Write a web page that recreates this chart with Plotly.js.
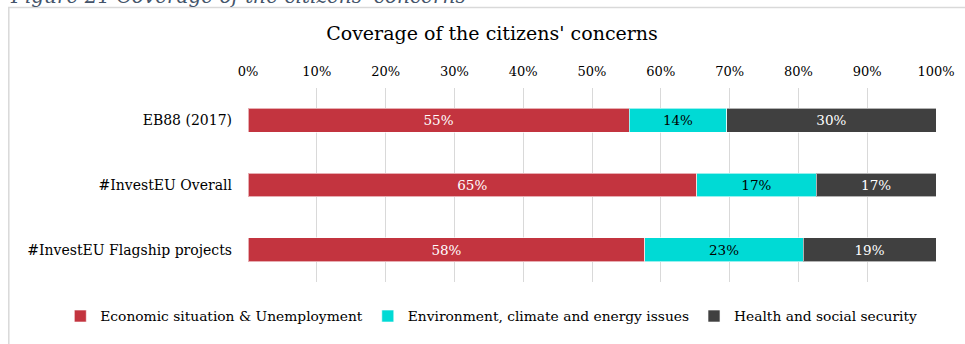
<!DOCTYPE html>
<html>
<head>
<meta charset="utf-8">
<script src="https://cdn.plot.ly/plotly-3.0.1.min.js"></script>
<style>
html,body{margin:0;padding:0;background:#fff;}
#chart{width:965px;height:344px;}
</style>
</head>
<body>
<div id="chart"></div>
<script>
const categories = ["EB88 (2017)", "#InvestEU Overall", "#InvestEU Flagship projects"];
const economic = [55.4, 65.2, 57.7];
const environment = [14.2, 17.4, 23.0];
const health = [30.4, 17.4, 19.3];
const seriesNames = ["Economic situation & Unemployment", "Environment, climate and energy issues", "Health and social security"];
const tickVals = [0, 10, 20, 30, 40, 50, 60, 70, 80, 90, 100];
const tickText = ["0%", "10%", "20%", "30%", "40%", "50%", "60%", "70%", "80%", "90%", "100%"];

const W = 965, H = 344;
const L = 247.7, R = 935.7, T = 88, B = 284.5;
const px = x => (x - L) / (R - L);
const py = y => (B - y) / (B - T);
const FONT = "DejaVu Serif, Liberation Serif, serif";

function bar(vals, name, color, textColor) {
  return {
    type: 'bar', orientation: 'h', name: name,
    y: categories, x: vals,
    marker: {color: color, line: {color: 'rgba(255,255,255,0.6)', width: 1}},
    text: vals.map(v => Math.round(v) + '%'),
    textposition: 'inside', insidetextanchor: 'middle',
    textfont: {family: FONT, size: 13.5, color: textColor},
    hoverinfo: 'name+x'
  };
}

const data = [
  bar(economic, seriesNames[0], '#C3343F', '#FFFFFF'),
  bar(environment, seriesNames[1], '#00DAD5', '#000000'),
  bar(health, seriesNames[2], '#404040', '#FFFFFF')
];

const layout = {
  width: W, height: H,
  margin: {l: L, r: W - R, t: T, b: H - B, pad: 0},
  paper_bgcolor: '#FFFFFF', plot_bgcolor: '#FFFFFF',
  barmode: 'stack', bargap: 0.63,
  font: {family: FONT, size: 13, color: '#000000'},
  title: {text: "Coverage of the citizens' concerns", font: {family: FONT, size: 19, color: '#000'},
          x: 492 / W, xanchor: 'center', y: 1 - 33 / H, yanchor: 'middle'},
  xaxis: {side: 'top', range: [0, 100], tickvals: tickVals, ticktext: tickText,
          showgrid: true, gridcolor: '#D9D9D9', gridwidth: 1, zeroline: false,
          showline: false, ticks: '', ticklabelstandoff: 8,
          tickfont: {family: FONT, size: 13, color: '#000'}, fixedrange: true},
  yaxis: {categoryorder: 'array', categoryarray: categories, autorange: 'reversed',
          showgrid: false, zeroline: false, showline: false, ticks: '',
          ticklabelstandoff: 15, tickfont: {family: FONT, size: 14, color: '#000'}},
  showlegend: true,
  legend: {orientation: 'h', xref: 'paper', yref: 'paper', x: px(60), xanchor: 'left',
           y: py(319), yanchor: 'middle',
           font: {family: FONT, size: 13.8, color: '#000'}, traceorder: 'normal',
           itemwidth: 30, tracegroupgap: 0},
  shapes: [{type: 'rect', xref: 'paper', yref: 'paper',
            x0: px(8.5), x1: px(970), y0: py(360), y1: py(6.5),
            line: {color: '#D9D9D9', width: 1.5}, fillcolor: 'rgba(0,0,0,0)', layer: 'below'}],
  annotations: [{xref: 'paper', yref: 'paper', x: px(8), xanchor: 'left', y: py(-5), yanchor: 'middle',
                 text: "<i>Figure 21 Coverage of the citizens' concerns</i>", showarrow: false,
                 font: {family: FONT, size: 20, color: '#44546A'}}]
};

Plotly.newPlot('chart', data, layout, {staticPlot: true, displayModeBar: false});
</script>
</body>
</html>
